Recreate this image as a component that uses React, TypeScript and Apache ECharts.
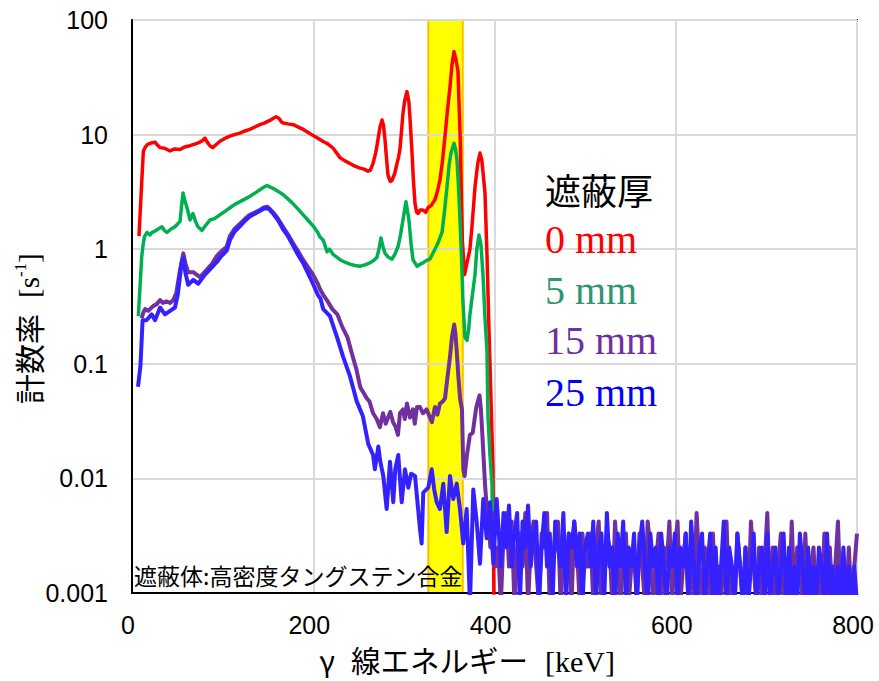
import React, { useEffect, useRef } from 'react';
import * as echarts from 'echarts';

// ---- data (keV, counts per second) ----
const X_TICKS = [0, 200, 400, 600, 800];
const Y_TICKS = [0.001, 0.01, 0.1, 1, 10, 100];
const BAND_KEV = [327, 365];

const LEGEND_TITLE = '遮蔽厚';
const SERIES_NAMES = ['0 mm', '5 mm', '15 mm', '25 mm'];
const NOTE = '遮蔽体:高密度タングステン合金';

const RED: [number, number][] = [
  [7.7, 1.3], [10.7, 3.8], [12.5, 7.1], [14.3, 7.7], [17, 8.2], [20, 8.4], [25.4, 8.6], [28, 8.1], [31, 7.7],
  [36, 7.6], [42, 7.2], [47, 7.5], [53, 7.4], [58, 7.8], [64, 8.0], [70, 8.3], [75, 8.6], [78, 8.9], [80.5, 9.3],
  [83, 8.6], [86, 8.0], [89, 7.7], [93, 8.2], [97, 8.75], [103, 9.3], [108, 9.7], [113, 10.0], [119, 10.3],
  [124, 10.7], [130, 11.1], [135, 11.6], [141, 12.2], [146, 12.6], [152, 13.3], [156, 13.9], [159, 14.3],
  [162, 13.9], [165, 12.9], [167, 12.6], [172, 12.4], [178, 12.2], [183, 11.7], [189, 11.1], [194, 10.5],
  [200, 9.8], [206, 9.2], [211, 8.7], [216, 8.3], [222, 7.6], [229.5, 6.3], [235, 5.9], [240.5, 5.6], [246, 5.3],
  [251.6, 5.1], [256, 5.0], [260.4, 4.8], [263, 4.9], [266, 5.6], [269, 7], [271.4, 9], [273.5, 11.5],
  [275.9, 13.4], [277.5, 12], [279.2, 9], [281, 6], [282.5, 4.4], [285, 3.9], [287, 4.0], [290, 4.6],
  [292.4, 5.6], [294, 6.3], [295.7, 7.5], [297.5, 11], [299, 15.3], [301, 20], [303.4, 23.7], [305.6, 19],
  [307, 13], [309, 6.9], [310.5, 4], [312.3, 2.5], [314, 2.1], [315.6, 2.05], [318, 2.2], [321, 2.2], [324, 2.1],
  [326.6, 2.3], [330, 2.4], [334.3, 2.7], [337, 3.2], [339.8, 4.0], [342.5, 5.8], [345.4, 9.7], [348, 16],
  [350.9, 26], [353, 40], [355.3, 53], [357.5, 45], [359.7, 36], [362, 10], [364.5, 1.2], [367, 0.6],
  [369.5, 0.75], [372.9, 1.0], [375.2, 1.6], [378.5, 3.5], [381.5, 5.6], [384, 6.9], [386, 6.0], [389.5, 3.1],
  [391.7, 0.9], [393.9, 0.2], [396.1, 0.05], [398.3, 0.012], [399.4, 0.0008],
];

const GREEN: [number, number][] = [
  [7, 0.26], [10.7, 0.86], [12.5, 1.13], [14, 1.3], [16.6, 1.4], [19.9, 1.33], [22, 1.4], [25.4, 1.44], [29, 1.5],
  [33.1, 1.57], [36, 1.45], [38.6, 1.4], [43, 1.5], [47.4, 1.57], [50, 1.65], [53, 1.75], [54.5, 2.3], [56.3, 3.1],
  [58, 2.7], [60.7, 2.3], [64, 1.8], [67.3, 2.05], [70, 1.75], [72.8, 1.57], [77.2, 1.46], [81, 1.6], [86.1, 1.8],
  [91, 1.85], [97.1, 2.0], [103, 2.15], [108.1, 2.3], [113, 2.45], [119.2, 2.6], [125, 2.75], [130.2, 2.9],
  [136, 3.1], [141.2, 3.3], [146, 3.5], [149, 3.6], [152, 3.5], [155.6, 3.4], [161, 3.2], [166.6, 3.0],
  [172, 2.75], [177.6, 2.5], [183, 2.25], [188.7, 2.0], [194, 1.8], [199.7, 1.6], [205, 1.4], [207.4, 1.28],
  [211, 1.2], [215.2, 0.95], [218, 1.0], [222, 0.9], [229.5, 0.81], [235, 0.77], [240.5, 0.74], [246, 0.72],
  [251.6, 0.71], [257, 0.73], [262.6, 0.76], [267, 0.8], [270.3, 0.85], [272.5, 1.0], [274.7, 1.25], [277, 1.05],
  [279.2, 0.92], [283, 0.85], [286.9, 0.82], [290, 0.9], [293.5, 1.05], [296, 1.3], [299, 1.8], [302.3, 2.6],
  [305.6, 1.8], [308, 1.1], [310.1, 0.81], [314.5, 0.71], [318, 0.74], [321.1, 0.76], [325, 0.8], [328.8, 0.82],
  [334.3, 1.0], [338, 1.15], [342.1, 1.4], [345, 2.2], [347.6, 3.5], [350, 5.5], [352, 6.9], [355.3, 8.4],
  [357, 7.5], [358.6, 6.0], [360.3, 3.5], [361.9, 1.8], [363.5, 0.9], [365.2, 0.35], [367.4, 0.17], [369.6, 0.16],
  [371.5, 0.2], [372.9, 0.27], [376.3, 0.44], [378.5, 0.6], [380.5, 1.0], [382.9, 1.33], [385, 1.1], [387.3, 0.6],
  [389.5, 0.25], [391.7, 0.13], [392.8, 0.035], [395, 0.016], [397.2, 0.009], [398, 0.004], [399, 0.0025],
];

const PURPLE_MAIN: [number, number][] = [
  [10.7, 0.25], [12.5, 0.28], [14.5, 0.3], [18, 0.29], [23.5, 0.32], [27, 0.33], [31, 0.36], [34, 0.34],
  [38, 0.35], [42, 0.34], [45.6, 0.36], [49, 0.42], [53, 0.66], [56.6, 0.92], [59, 0.75], [62, 0.63],
  [67.6, 0.63], [75, 0.57], [82.4, 0.66], [88, 0.74], [93, 0.86], [98, 0.95], [104.5, 1.05], [108, 1.3],
  [113, 1.5], [119, 1.66], [125, 1.85], [130, 2.0], [136, 2.1], [141, 2.2], [145, 2.3], [149, 2.35], [152, 2.25],
  [155.6, 2.1], [161, 1.85], [166.6, 1.57], [172, 1.35], [177.6, 1.13], [183, 0.97], [188.7, 0.81], [194, 0.7],
  [199.7, 0.6], [205, 0.5], [207.4, 0.45], [211, 0.4], [215, 0.36], [221, 0.3], [226.6, 0.27], [232, 0.21],
  [237.8, 0.17], [243, 0.12], [247.5, 0.09], [252, 0.062], [256, 0.055], [259, 0.05], [262, 0.047], [266, 0.037],
  [270, 0.033], [273.6, 0.028], [277, 0.037], [280, 0.03], [282.5, 0.034], [285, 0.038], [288, 0.031],
  [291, 0.028], [293.5, 0.024], [295.7, 0.037], [299, 0.04], [301, 0.033], [303.4, 0.045], [306.7, 0.034],
  [310, 0.04], [312, 0.03], [314.5, 0.042], [317.8, 0.042], [321, 0.037], [325, 0.04], [328.8, 0.034],
  [331, 0.031], [334.3, 0.042], [337, 0.036], [339.8, 0.045], [343, 0.047], [345.4, 0.05], [348, 0.075],
  [350.9, 0.115], [353, 0.17], [355.5, 0.22], [357, 0.18], [358.6, 0.12], [360, 0.08], [362, 0.05], [364.1, 0.04],
  [365.6, 0.012], [367, 0.0105], [369.6, 0.016], [372.9, 0.024], [376, 0.025], [378.5, 0.035], [380, 0.042],
  [383.5, 0.053], [385, 0.04], [386.5, 0.025], [389.5, 0.009], [391, 0.0062], [393, 0.0042], [395.5, 0.0025],
  [398, 0.005], [401, 0.0017],
];

const BLUE_MAIN: [number, number][] = [
  [6.6, 0.063], [9.3, 0.095], [11.7, 0.24], [16, 0.24], [21.7, 0.27], [25.4, 0.24], [31, 0.31], [36.4, 0.27],
  [42, 0.29], [47.4, 0.31], [50.5, 0.4], [54.8, 0.76], [56.6, 0.83], [59, 0.62], [62, 0.49], [67.6, 0.54],
  [73, 0.5], [80.5, 0.6], [87, 0.68], [93.4, 0.77], [98, 0.86], [104.5, 0.97], [108, 1.2], [113, 1.42],
  [119, 1.58], [125, 1.78], [130, 1.93], [136, 2.05], [141, 2.15], [145, 2.25], [149, 2.3], [152, 2.2],
  [155.6, 2.05], [161, 1.8], [166.6, 1.5], [172, 1.3], [177.6, 1.08], [183, 0.9], [188.7, 0.76], [194, 0.62],
  [199.7, 0.5], [205, 0.4], [208, 0.37], [211, 0.3], [218.5, 0.26], [226.3, 0.17], [233, 0.115], [240.5, 0.078],
  [248, 0.047], [254.7, 0.035], [260.7, 0.02], [266, 0.016], [268, 0.012], [271.8, 0.019], [274, 0.014],
  [277.3, 0.0105], [281, 0.0054], [284.7, 0.014], [288.3, 0.0062], [290.5, 0.012], [293.8, 0.016],
  [297.6, 0.0062], [301.2, 0.012], [304.9, 0.0083], [308, 0.011], [312.3, 0.0105], [317.8, 0.0036],
  [319.6, 0.0027], [321.4, 0.0075], [326.9, 0.0083], [330.7, 0.012], [333.5, 0.008], [336.2, 0.0062],
  [339.8, 0.0054], [343.5, 0.009], [347.2, 0.0034], [350.9, 0.0105], [354.5, 0.0066], [358.3, 0.009],
  [361.9, 0.0054], [365.5, 0.0027], [369.3, 0.0054], [372.9, 0.0008], [376.6, 0.008], [380.3, 0.0042],
  [384, 0.0018], [387.6, 0.0066], [391.4, 0.003], [395, 0.0062], [398.7, 0.0018], [402.4, 0.0066],
];

// Tail channels from 404 keV to 800 keV every 3 keV
const TAIL_START_KEV = 404;
const TAIL_STEP_KEV = 3;

const PURPLE_TAIL = [
  .0025, .0008, .0033, .005, .0017, .0042, .0008, .0025, .0033, .0017, .005, .0008, .0025, .0042, .0017,
  .0008, .0033, .0025, .005, .0008, .0017, .0033, .0042, .0008, .0025, .0017, .0033, .0008, .0042, .0025,
  .0008, .0033, .0017,
  .0017, .0033, .0008, .0025, .0042, .0008, .0017, .0033, .0025, .0008, .0042, .0017, .0008, .0025, .0033,
  .0008, .0017, .0025, .0008, .0033, .0017, .0008, .0042, .0025, .0008, .0017, .0033, .0008, .0025, .0017,
  .0042, .0008, .0025,
  .0042, .0008, .0017, .0033, .0008, .0025, .0008, .005, .0017, .0008, .0025, .0017, .0008, .0033, .0008,
  .0017, .0008, .0025, .0042, .0008, .0017, .0008, .0033, .0017, .0008, .0025, .0008, .0042, .0017, .0008,
  .0025, .0008, .0017,
  .005, .0008, .0025, .0008, .0017, .0033, .0008, .0017, .0008, .0042, .0008, .0025, .0017, .0008, .0033,
  .0008, .0017, .0025, .0008, .0017, .0008, .0033, .0008, .0025, .0008, .0017, .0042, .0008, .0017, .0008,
  .0025, .0008, .0017, .0033,
];

const BLUE_TAIL = [
  .0042, .0017, .005, .0025, .0058, .0017, .0033, .005, .0008, .0042, .0025, .0058, .0017, .0033, .0042,
  .0008, .0025, .005, .0017, .0033, .0008, .0042, .0025, .0017, .005, .0008, .0033, .0025, .0042, .0017,
  .0033, .0008, .0025,
  .0033, .0017, .0042, .0008, .0025, .0033, .0008, .005, .0017, .0025, .0008, .0033, .0017, .0042, .0008,
  .0025, .0017, .0033, .0008, .0025, .0042, .0017, .0008, .0033, .0017, .0025, .0008, .0033, .0017, .0008,
  .0025, .0017, .0033,
  .0008, .0025, .0017, .0033, .0008, .0042, .0017, .0008, .0025, .0033, .0008, .0017, .0033, .0008, .0025,
  .0008, .0017, .0042, .0008, .0025, .0017, .0008, .0033, .0017, .0008, .0025, .0008, .0017, .0033, .0008,
  .0017, .0025, .0008,
  .0033, .0008, .0017, .0025, .0008, .0017, .0033, .0008, .0025, .0008, .0017, .0008, .0033, .0017, .0008,
  .0025, .0008, .0017, .0008, .0025, .0017, .0008, .0033, .0008, .0017, .0008, .0017, .0008, .0025, .0008,
  .0017, .0008, .0017, .0008,
];

// ---- styling ----
const CJK = "'Noto Sans CJK JP', sans-serif";
const SERIF = "'Liberation Serif', 'Times New Roman', serif";
const SANS = "'Liberation Sans', Arial, sans-serif";
const COLORS = ['#FF0000', '#00B050', '#7030A0', '#3322FF'];
const LEGEND_COLORS = ['#FF0000', '#2E9670', '#7030A0', '#0000FF'];

function withTail(main: [number, number][], tail: number[]): [number, number][] {
  return main.concat(tail.map((v, i) => [TAIL_START_KEV + i * TAIL_STEP_KEV, v] as [number, number]));
}

function txt(text: string, x: number, y: number, fontSize: number, fontFamily: string, fill: string, align = 'left') {
  return {
    type: 'text',
    x,
    y,
    z: 100,
    silent: true,
    style: {
      text,
      fontSize,
      fontFamily,
      fill,
      align,
      verticalAlign: 'middle',
      textAlign: align,
      textVerticalAlign: 'middle',
    },
  };
}

export default function App() {
  const ref = useRef<HTMLDivElement>(null);

  useEffect(() => {
    if (!ref.current) return;
    const chart = echarts.init(ref.current, null, { renderer: 'svg' });

    const lineSeries = (name: string, data: [number, number][], color: string, width: number, extra: any = {}) => ({
      type: 'line',
      name,
      data,
      showSymbol: false,
      symbol: 'none',
      clip: true,
      lineStyle: { color, width, join: 'round' },
      itemStyle: { color },
      z: 2,
      ...extra,
    });

    const option: any = {
      animation: false,
      backgroundColor: '#ffffff',
      grid: {
        left: 132,
        right: 22,
        top: 20,
        bottom: 88,
        show: true,
        z: 1.5,
        borderColor: '#000',
        borderWidth: 2,
        backgroundColor: 'transparent',
      },
      xAxis: {
        type: 'value',
        min: X_TICKS[0],
        max: X_TICKS[X_TICKS.length - 1],
        interval: 200,
        z: 1.5,
        axisLine: { show: true, lineStyle: { color: '#000', width: 2 } },
        axisTick: { show: false },
        splitLine: { show: true, lineStyle: { color: '#D9D9D9', width: 2 } },
        axisLabel: {
          fontSize: 25,
          fontFamily: SANS,
          color: '#000',
          margin: 19,
          padding: [0, 8, 0, 0],
        },
      },
      yAxis: {
        type: 'log',
        logBase: 10,
        min: Y_TICKS[0],
        max: Y_TICKS[Y_TICKS.length - 1],
        splitNumber: 5,
        z: 1.5,
        axisLine: { show: true, lineStyle: { color: '#000', width: 2 } },
        axisTick: { show: false },
        splitLine: { show: true, lineStyle: { color: '#D9D9D9', width: 2 } },
        axisLabel: {
          fontSize: 25,
          fontFamily: SANS,
          color: '#000',
          margin: 24,
          formatter: (v: number) => String(+Number(v).toPrecision(1)),
        },
      },
      series: [
        lineSeries(SERIES_NAMES[0], RED, COLORS[0], 3.5, {
          markArea: {
            silent: true,
            z: 1,
            itemStyle: { color: '#FFFF00', borderColor: '#FFC000', borderWidth: 2 },
            data: [[{ xAxis: BAND_KEV[0] }, { xAxis: BAND_KEV[1] }]],
          },
        }),
        lineSeries(SERIES_NAMES[1], GREEN, COLORS[1], 3.5),
        lineSeries(SERIES_NAMES[2], withTail(PURPLE_MAIN, PURPLE_TAIL), COLORS[2], 4),
        lineSeries(SERIES_NAMES[3], withTail(BLUE_MAIN, BLUE_TAIL), COLORS[3], 4),
      ],
      graphic: [
        // y-axis title, rotated
        {
          type: 'group',
          x: 28,
          y: 404,
          z: 100,
          rotation: Math.PI / 2,
          silent: true,
          children: [
            txt('計数率', 0, 0, 30, CJK, '#000'),
            txt('[s', 106, 1, 29, SERIF, '#000'),
            txt('-1', 127, -8, 17, SERIF, '#000'),
            txt(']', 141, 1, 29, SERIF, '#000'),
          ],
        },
        // x-axis title
        txt('γ', 327, 659, 29, CJK, '#000', 'center'),
        txt('線エネルギー', 351, 659, 29.5, CJK, '#000'),
        txt('[keV]', 545, 661, 30, SERIF, '#000'),
        // legend block
        txt(LEGEND_TITLE, 545, 189, 36, CJK, '#000'),
        txt(SERIES_NAMES[0], 545, 239, 40, SERIF, LEGEND_COLORS[0]),
        txt(SERIES_NAMES[1], 545, 290, 40, SERIF, LEGEND_COLORS[1]),
        txt(SERIES_NAMES[2], 545, 340, 40, SERIF, LEGEND_COLORS[2]),
        txt(SERIES_NAMES[3], 545, 392, 40, SERIF, LEGEND_COLORS[3]),
        // note
        txt(NOTE, 134, 575, 23, CJK, '#000'),
      ],
    };

    chart.setOption(option);
    return () => chart.dispose();
  }, []);

  return (
    <div
      ref={ref}
      style={{ position: 'fixed', left: 0, top: 0, width: 879, height: 681, background: '#fff' }}
    />
  );
}
